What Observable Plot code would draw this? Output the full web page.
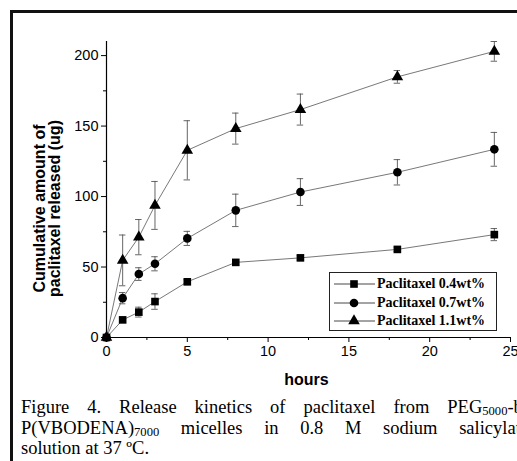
<!DOCTYPE html>
<html>
<head>
<meta charset="utf-8">
<script src="https://cdn.jsdelivr.net/npm/d3@7"></script>
<script src="https://cdn.jsdelivr.net/npm/@observablehq/plot@0.6"></script>
<style>
  html, body { margin: 0; padding: 0; background: #fff; width: 517px; height: 461px; overflow: hidden; }
  #frame { position: absolute; left: 10px; top: 10px; width: 600px; height: 600px;
           border-left: 3px solid #111; border-top: 3px solid #111; box-sizing: border-box; }
  #chart { position: absolute; left: 0; top: 0; }
  #legend { position: absolute; left: 329px; top: 272px; width: 168px; height: 59px; box-sizing: border-box;
            border: 1px solid #222; background: #fff; padding-top: 2px;
            font-family: "Liberation Serif", "Times New Roman", serif; font-weight: bold; font-size: 14px; }
  #legend .row { display: flex; align-items: center; height: 18.5px; }
  #legend svg { display: block; margin-left: 3px; }
  #legend span { margin-left: 2px; white-space: nowrap; }
  #caption { position: absolute; left: 21px; top: 397px; width: 508px;
             font-family: "Liberation Serif", "Times New Roman", serif; font-size: 18.5px; line-height: 20.5px; color: #000; }
  #caption div { white-space: nowrap; }
  #caption .j { text-align: justify; text-align-last: justify; }
  #caption sub { font-size: 0.68em; vertical-align: -0.15em; line-height: 0; }
</style>
</head>
<body>
<div id="frame"></div>
<div id="chart"></div>
<div id="legend"></div>
<div id="caption">
  <div class="j">Figure 4. Release kinetics of paclitaxel from PEG<sub>5000</sub>-b-</div>
  <div class="j">P(VBODENA)<sub>7000</sub> micelles in 0.8 M sodium salicylate</div>
  <div>solution at 37 ºC.</div>
</div>
<script>
// ---- data ----
const hours = [0, 1, 2, 3, 5, 8, 12, 18, 24];
const seriesNames = ["Paclitaxel 0.4wt%", "Paclitaxel 0.7wt%", "Paclitaxel 1.1wt%"];
const release04 = [0, 12.5, 18, 25.5, 39.5, 53.3, 56.5, 62.5, 73];
const error04   = [0, 1.5, 3.5, 5.5, 1.5, 1.5, 1.5, 1.5, 4.3];
const release07 = [0, 27.9, 45, 52.3, 70.3, 90.2, 103.2, 117.2, 133.5];
const error07   = [0, 4, 4.5, 5, 5, 11.5, 9.5, 9, 12];
const release11 = [0, 54.7, 71.2, 93.7, 132.8, 148.2, 161.7, 184.9, 203];
const error11   = [0, 18, 12.5, 17, 21, 11, 11, 4.5, 7];
const symbolNames = ["square", "circle", "triangle"];
const xTicks = [0, 5, 10, 15, 20, 25];
const xMinorTicks = [2.5, 7.5, 12.5, 17.5, 22.5];
const yTicks = [0, 50, 100, 150, 200];
const yMinorTicks = [25, 75, 125, 175];
const yLabel = "Cumulative amount of\npaclitaxel released (ug)";
const xLabel = "hours";

const values = [release04, release07, release11];
const errors = [error04, error07, error11];
const rows = seriesNames.flatMap((s, i) => hours.map((h, j) => ({
  hours: h, value: values[i][j], err: errors[i][j], series: s
})));
const errRows = rows.filter(d => d.err > 0);

const chart = Plot.plot({
  width: 517,
  height: 395,
  marginLeft: 106,
  marginRight: 7,
  marginTop: 41,
  marginBottom: 58,
  x: { domain: [0, 25] },
  y: { domain: [0, 210] },
  symbol: { domain: seriesNames, range: symbolNames },
  style: { fontFamily: "'Liberation Sans', Arial, sans-serif", fontSize: "14.5px", background: "transparent", color: "#000", overflow: "visible" },
  marks: [
    Plot.axisX({ ticks: xTicks, tickSize: 5, tickPadding: 3, fontSize: 14.5, label: null }),
    Plot.axisX({ ticks: xMinorTicks, tickSize: 3, tickFormat: () => "", label: null }),
    Plot.axisY({ ticks: yTicks, tickSize: 5, tickPadding: 3, fontSize: 14.5, label: null }),
    Plot.axisY({ ticks: yMinorTicks, tickSize: 3, tickFormat: () => "", label: null }),
    Plot.ruleX([0], { stroke: "#000", strokeWidth: 1.2 }),
    Plot.ruleY([0], { stroke: "#000", strokeWidth: 1.2 }),
    Plot.ruleX(errRows, { x: "hours", y1: d => d.value - d.err, y2: d => d.value + d.err, stroke: "#555", strokeWidth: 0.9 }),
    Plot.ruleY(errRows, { y: d => d.value + d.err, x1: d => d.hours - 0.2, x2: d => d.hours + 0.2, stroke: "#555", strokeWidth: 0.9 }),
    Plot.ruleY(errRows, { y: d => d.value - d.err, x1: d => d.hours - 0.2, x2: d => d.hours + 0.2, stroke: "#555", strokeWidth: 0.9 }),
    Plot.line(rows, { x: "hours", y: "value", z: "series", stroke: "#555", strokeWidth: 0.8 }),
    Plot.dot(rows, { x: "hours", y: "value", symbol: "series", fill: "#000", stroke: "none", r: 4.3 }),
    Plot.text([yLabel], { frameAnchor: "left", rotate: -90, dx: -59, dy: 19, fontWeight: "bold", fontSize: 16, lineHeight: 0.97, lineAnchor: "middle", textAnchor: "middle" }),
    Plot.text([xLabel], { frameAnchor: "bottom", dy: 47, dx: -2, fontWeight: "bold", fontSize: 16 })
  ]
});
document.getElementById("chart").appendChild(chart);

// ---- legend ----
const symbolTypes = { square: d3.symbolSquare, circle: d3.symbolCircle, triangle: d3.symbolTriangle };
const legend = d3.select("#legend");
seriesNames.forEach((s, i) => {
  const row = legend.append("div").attr("class", "row");
  const svg = row.append("svg").attr("width", 42).attr("height", 18);
  svg.append("line").attr("x1", 1).attr("x2", 42).attr("y1", 9).attr("y2", 9).attr("stroke", "#333").attr("stroke-width", 0.9);
  svg.append("path")
    .attr("transform", "translate(21,9)")
    .attr("d", d3.symbol(symbolTypes[symbolNames[i]], 4.3 * 4.3 * Math.PI)())
    .attr("fill", "#000");
  row.append("span").text(s);
});
</script>
</body>
</html>
